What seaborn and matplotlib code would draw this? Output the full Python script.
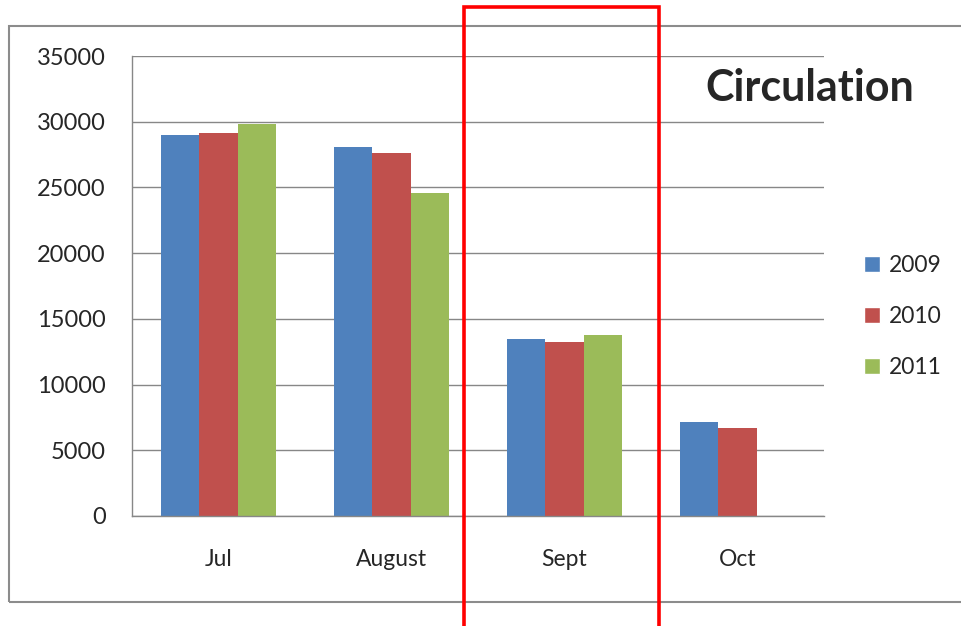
import pandas as pd
import numpy as np
import matplotlib
matplotlib.use("Agg")
import matplotlib.pyplot as plt
import matplotlib.patches as mpatches
import seaborn as sns

months = ["Jul", "August", "Sept", "Oct"]
years = ["2009", "2010", "2011"]
circ_2009 = [28970, 28100, 13470, 7130]
circ_2010 = [29170, 27600, 13260, 6670]
circ_2011 = [29850, 24600, 13770, None]  # no October 2011 yet
colors = ["#4F81BD", "#C0504D", "#9BBB59"]

rows = []
for year, vals in zip(years, [circ_2009, circ_2010, circ_2011]):
    for m, v in zip(months, vals):
        if v is not None:
            rows.append({"Month": m, "Year": year, "Circulation": v})
df = pd.DataFrame(rows)

sns.set_style("white")
plt.rcParams["font.family"] = ["Lato", "DejaVu Sans"]

fig = plt.figure(figsize=(9.61, 6.26), dpi=100)
ax = fig.add_axes([132 / 961, 1 - 516 / 626, (824 - 132) / 961, (516 - 56) / 626])

sns.barplot(data=df, x="Month", y="Circulation", hue="Year", order=months,
            hue_order=years, palette=colors, width=0.667, gap=0,
            saturation=1, linewidth=0, ax=ax, legend=False)

grid_col = "#878787"
ax.set_ylim(0, 35000)
ax.set_xlim(-0.5, len(months) - 0.5)
ax.set_yticks(np.arange(0, 35001, 5000))
ax.yaxis.grid(True, color=grid_col, linewidth=1)
ax.set_axisbelow(True)
ax.set_xlabel("")
ax.set_ylabel("")
for side in ["top", "right"]:
    ax.spines[side].set_visible(False)
for side in ["left", "bottom"]:
    ax.spines[side].set_color(grid_col)
    ax.spines[side].set_linewidth(1)

ax.set_xticks(np.arange(-0.5, len(months)), minor=True)
ax.tick_params(axis="x", which="major", length=0, pad=24, labelsize=16.5)
ax.tick_params(axis="x", which="minor", length=6, color=grid_col, width=1)
ax.tick_params(axis="y", length=7, color=grid_col, width=1, pad=12, labelsize=17)

handles = [mpatches.Patch(facecolor=c, label=y) for c, y in zip(colors, years)]
fig.legend(handles=handles, loc="upper left", bbox_to_anchor=(864 / 961, 1 - 255 / 626),
           frameon=False, fontsize=16.5, handlelength=0.7, handleheight=0.7,
           handletextpad=0.4, labelspacing=1.3, borderpad=0, borderaxespad=0)

fig.text(810 / 961, 1 - 88 / 626, "Circulation", ha="center", va="center",
         fontsize=31, fontweight="bold")

# outer chart frame
fig.patches.append(mpatches.Rectangle((9 / 961, 1 - 602 / 626), 1.2, (602 - 26) / 626,
                                      transform=fig.transFigure, fill=False,
                                      edgecolor="#8c8c8c", linewidth=1.5, zorder=-1))
# red highlight box around September
fig.patches.append(mpatches.Rectangle((464 / 961, -0.1), (659 - 464) / 961, 1.1 - 7 / 626,
                                      transform=fig.transFigure, fill=False,
                                      edgecolor="#ff0000", linewidth=2.6, zorder=5))

fig.savefig("out.png", dpi=100)
